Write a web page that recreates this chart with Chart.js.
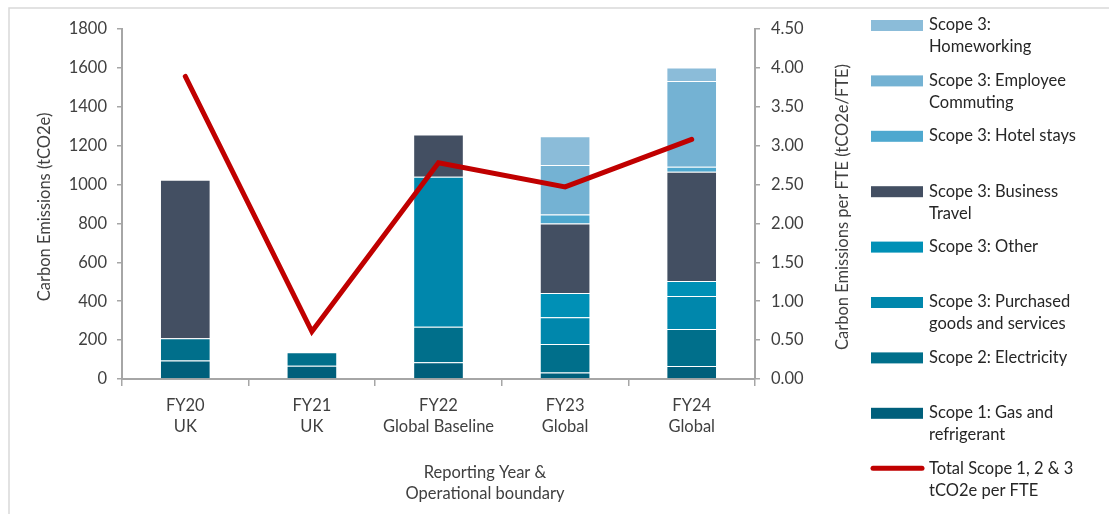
<!DOCTYPE html>
<html>
<head>
<meta charset="utf-8">
<script src="https://cdn.jsdelivr.net/npm/chart.js@4"></script>
<style>
    body { margin: 0; background: #fff; }
    #wrap { width: 1109px; height: 514px; position: relative; }
</style>
</head>
<body>
<div id="wrap"><canvas id="emissionsChart"></canvas></div>
<script>
// Values (tCO2e per stack segment)
const categories = [['FY20', 'UK'], ['FY21', 'UK'], ['FY22', 'Global Baseline'], ['FY23', 'Global'], ['FY24', 'Global']];
const scope1Gas = [95, 68, 86, 33, 67];
const scope2Electricity = [115, 69, 183, 147, 190];
const scope3Purchased = [0, 0, 771, 137, 170];
const scope3Other = [0, 0, 0, 125, 77];
const scope3Business = [815, 0, 218, 358, 562];
const scope3Hotel = [0, 0, 0, 46, 25];
const scope3Commuting = [0, 0, 0, 254, 442];
const scope3Homeworking = [0, 0, 0, 149, 69];
const perFte = [3.89, 0.61, 2.78, 2.47, 3.08];

const leftTicks = [0, 200, 400, 600, 800, 1000, 1200, 1400, 1600, 1800];
const rightTicks = [0, 0.5, 1, 1.5, 2, 2.5, 3, 3.5, 4, 4.5];

const FONT = 'Lato, "Open Sans", sans-serif';
const FONT_SIZE = 16.5;
const AXIS_GREY = '#a6a6a6';
const TEXT = '#404040';

function barSet(label, data, color) {
    return {
        type: 'bar',
        label: label,
        data: data,
        backgroundColor: color,
        borderColor: 'rgba(255, 255, 255, 0.2)',
        borderWidth: 1,
        barPercentage: 0.4,
        categoryPercentage: 1,
        yAxisID: 'y',
        order: 1
    };
}

// legend entries, top to bottom, each with its own text lines
const legendItems = [
    { lines: ['Scope 3:', 'Homeworking'], color: '#8bbcd9' },
    { lines: ['Scope 3: Employee', 'Commuting'], color: '#74b2d3' },
    { lines: ['Scope 3: Hotel stays'], color: '#4ea8cf' },
    { lines: ['Scope 3: Business', 'Travel'], color: '#434f62' },
    { lines: ['Scope 3: Other'], color: '#0090b6' },
    { lines: ['Scope 3: Purchased', 'goods and services'], color: '#0087ac' },
    { lines: ['Scope 2: Electricity'], color: '#006f8b' },
    { lines: ['Scope 1: Gas and', 'refrigerant'], color: '#005f7b' },
    { lines: ['Total Scope 1, 2 & 3', 'tCO2e per FTE'], color: '#c00000', line: true }
];

const decorations = {
    id: 'decorations',
    afterDraw(chart) {
        const ctx = chart.ctx;
        ctx.save();

        // outer frame
        ctx.strokeStyle = '#d9d9d9';
        ctx.lineWidth = 1.5;
        ctx.strokeRect(9, 8, 1120, 530);

        ctx.fillStyle = TEXT;
        ctx.font = FONT_SIZE + 'px ' + FONT;
        ctx.textAlign = 'center';
        ctx.textBaseline = 'middle';

        // axis titles
        const midY = (chart.chartArea.top + chart.chartArea.bottom) / 2 + 3;
        ctx.save();
        ctx.translate(45, midY);
        ctx.rotate(-Math.PI / 2);
        ctx.fillText('Carbon Emissions (tCO2e)', 0, 0);
        ctx.restore();

        ctx.save();
        ctx.translate(843, midY);
        ctx.rotate(-Math.PI / 2);
        ctx.fillText('Carbon Emissions per FTE (tCO2e/FTE)', 0, 0);
        ctx.restore();

        ctx.fillText('Reporting Year &', 485, 473);
        ctx.fillText('Operational boundary', 485, 494);

        // legend
        ctx.textAlign = 'left';
        ctx.fillStyle = '#262626';
        legendItems.forEach((item, i) => {
            const y = 25 + i * 55.4;
            if (item.line) {
                ctx.strokeStyle = item.color;
                ctx.lineWidth = 5;
                ctx.lineCap = 'round';
                ctx.beginPath();
                ctx.moveTo(873, y);
                ctx.lineTo(922, y);
                ctx.stroke();
            } else {
                ctx.fillStyle = item.color;
                ctx.fillRect(871, y - 5, 52, 11);
                ctx.fillStyle = '#262626';
            }
            item.lines.forEach((t, j) => ctx.fillText(t, 929, y + j * 22));
        });

        ctx.restore();
    }
};

const ctx = document.getElementById('emissionsChart').getContext('2d');

new Chart(ctx, {
    data: {
        labels: categories,
        datasets: [
            {
                type: 'line',
                label: 'Total Scope 1, 2 & 3 tCO2e per FTE',
                data: perFte,
                borderColor: '#c00000',
                borderWidth: 5,
                pointRadius: 0,
                tension: 0,
                borderCapStyle: 'round',
                borderJoinStyle: 'miter',
                yAxisID: 'y1',
                order: 0
            },
            barSet('Scope 1: Gas and refrigerant', scope1Gas, '#005f7b'),
            barSet('Scope 2: Electricity', scope2Electricity, '#006f8b'),
            barSet('Scope 3: Purchased goods and services', scope3Purchased, '#0087ac'),
            barSet('Scope 3: Other', scope3Other, '#0090b6'),
            barSet('Scope 3: Business Travel', scope3Business, '#434f62'),
            barSet('Scope 3: Hotel stays', scope3Hotel, '#4ea8cf'),
            barSet('Scope 3: Employee Commuting', scope3Commuting, '#74b2d3'),
            barSet('Scope 3: Homeworking', scope3Homeworking, '#8bbcd9')
        ]
    },
    options: {
        responsive: true,
        maintainAspectRatio: false,
        animation: false,
        layout: { padding: { top: 29, right: 249, bottom: 0, left: 0 } },
        plugins: {
            legend: { display: false },
            tooltip: { enabled: false }
        },
        scales: {
            x: {
                stacked: true,
                offset: true,
                grid: {
                    offset: true,
                    drawOnChartArea: false,
                    drawTicks: true,
                    tickLength: 7,
                    color: AXIS_GREY,
                    lineWidth: 1.5
                },
                border: { color: AXIS_GREY, width: 2 },
                ticks: {
                    color: TEXT,
                    padding: 9,
                    maxRotation: 0,
                    font: { family: FONT, size: FONT_SIZE, lineHeight: 1.26 }
                },
                afterFit: scale => { scale.height = 135; }
            },
            y: {
                stacked: true,
                position: 'left',
                min: 0,
                max: 1800,
                afterBuildTicks: scale => { scale.ticks = leftTicks.map(v => ({ value: v })); },
                grid: {
                    drawOnChartArea: false,
                    tickLength: 5,
                    color: AXIS_GREY,
                    lineWidth: 1.5
                },
                border: { color: AXIS_GREY, width: 2 },
                ticks: {
                    color: TEXT,
                    padding: 10,
                    font: { family: FONT, size: FONT_SIZE },
                    callback: v => String(v)
                },
                afterFit: scale => { scale.width = 122; }
            },
            y1: {
                stacked: false,
                position: 'right',
                min: 0,
                max: 4.5,
                afterBuildTicks: scale => { scale.ticks = rightTicks.map(v => ({ value: v })); },
                grid: {
                    drawOnChartArea: false,
                    tickLength: 5,
                    color: AXIS_GREY,
                    lineWidth: 1.5
                },
                border: { color: AXIS_GREY, width: 2 },
                ticks: {
                    color: TEXT,
                    padding: 11,
                    font: { family: FONT, size: FONT_SIZE },
                    callback: v => Number(v).toFixed(2)
                },
                afterFit: scale => { scale.width = 105; }
            }
        }
    },
    plugins: [decorations]
});
</script>
</body>
</html>
